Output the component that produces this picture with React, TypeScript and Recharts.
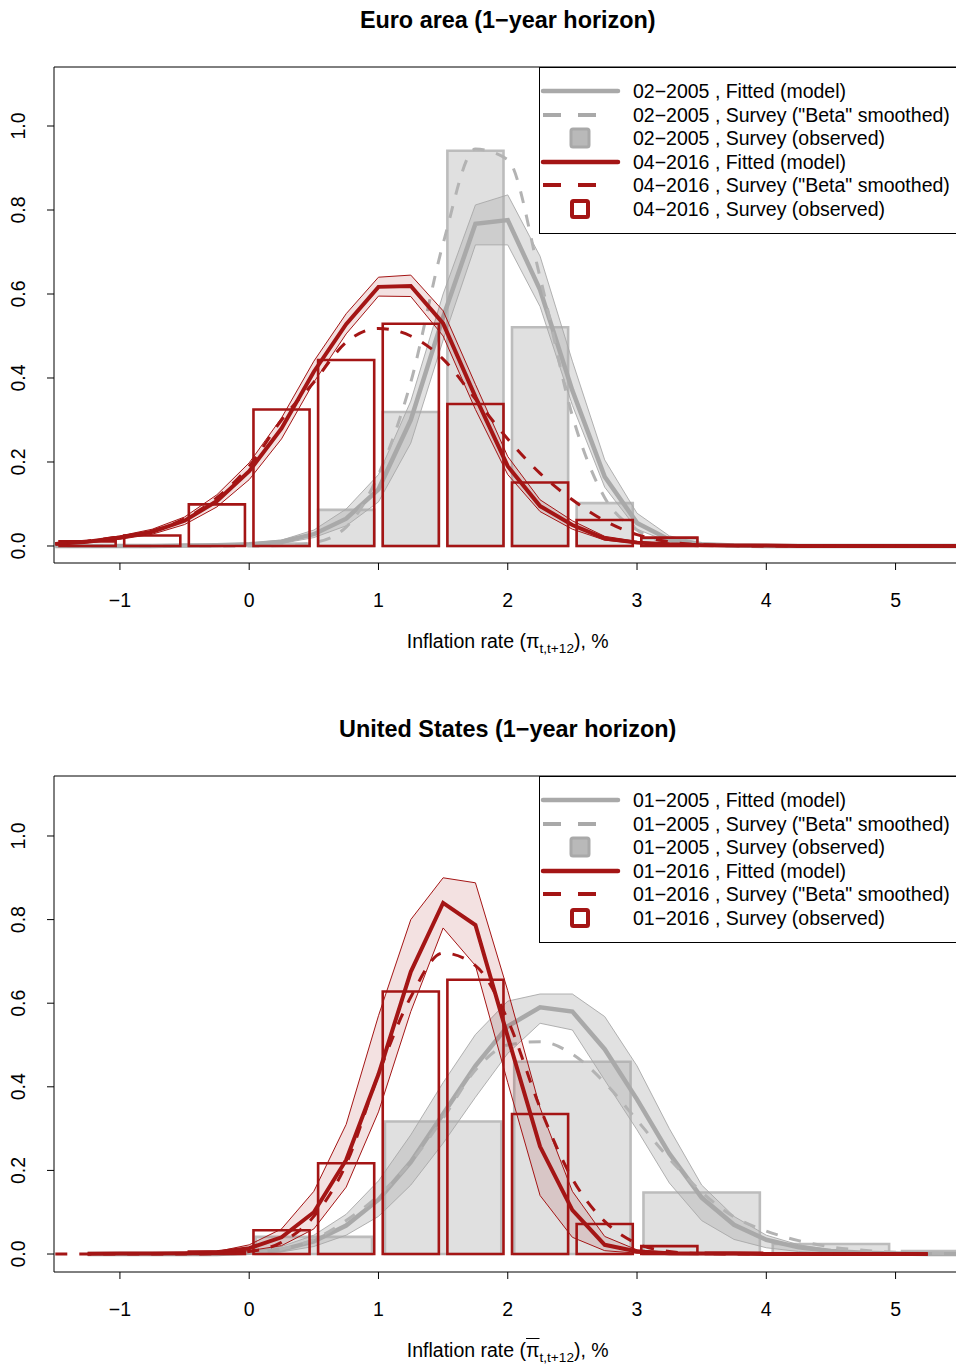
// Survey vs fitted inflation densities, Euro area and US (1-year horizon)

import { ComposedChart, Line, Area, XAxis, YAxis, ReferenceArea } from 'recharts'

const GRID = [-1.5, -1.25, -1, -0.75, -0.5, -0.25, 0, 0.25, 0.5, 0.75, 1, 1.25, 1.5, 1.75, 2, 2.25, 2.5, 2.75, 3, 3.25, 3.5, 3.75, 4, 4.25, 4.5, 4.75, 5, 5.25, 5.5]

// Euro area, 02-2005 (grey)
const EA05_FIT = [0, 0, 0, 0, 0.001, 0.002, 0.004, 0.01, 0.028, 0.065, 0.135, 0.3, 0.545, 0.767, 0.776, 0.61, 0.37, 0.165, 0.055, 0.015, 0.004, 0.001, 0, 0, 0, 0, 0, 0, 0]
const EA05_LO = [0, 0, 0, 0, 0, 0.001, 0.002, 0.006, 0.02, 0.048, 0.105, 0.245, 0.49, 0.717, 0.717, 0.57, 0.335, 0.14, 0.04, 0.009, 0.002, 0, 0, 0, 0, 0, 0, 0, 0]
const EA05_HI = [0, 0, 0, 0, 0.002, 0.003, 0.007, 0.014, 0.038, 0.088, 0.17, 0.345, 0.6, 0.812, 0.836, 0.69, 0.44, 0.205, 0.078, 0.024, 0.007, 0.002, 0.001, 0, 0, 0, 0, 0, 0]
const EA05_BETA = [0, 0, 0, 0, 0, 0, 0, 0.001, 0.008, 0.045, 0.17, 0.39, 0.72, 0.945, 0.92, 0.64, 0.31, 0.115, 0.038, 0.008, 0.001, 0, 0, 0, 0, 0, 0, 0, 0]
// Euro area, 04-2016 (red)
const EA16_FIT = [0.005, 0.01, 0.02, 0.034, 0.06, 0.107, 0.178, 0.28, 0.415, 0.528, 0.617, 0.619, 0.53, 0.355, 0.19, 0.095, 0.05, 0.018, 0.008, 0.004, 0.002, 0.001, 0.001, 0, 0, 0, 0, 0, 0]
const EA16_LO = [0.004, 0.008, 0.016, 0.028, 0.051, 0.093, 0.158, 0.255, 0.39, 0.505, 0.595, 0.594, 0.5, 0.325, 0.17, 0.082, 0.04, 0.014, 0.006, 0.003, 0.001, 0, 0, 0, 0, 0, 0, 0, 0]
const EA16_HI = [0.006, 0.012, 0.024, 0.04, 0.069, 0.122, 0.198, 0.305, 0.44, 0.553, 0.64, 0.645, 0.56, 0.385, 0.213, 0.11, 0.06, 0.023, 0.011, 0.005, 0.003, 0.001, 0.001, 0, 0, 0, 0, 0, 0]
const EA16_BETA = [0.006, 0.012, 0.022, 0.036, 0.065, 0.115, 0.19, 0.3, 0.39, 0.485, 0.518, 0.5, 0.445, 0.35, 0.255, 0.173, 0.11, 0.06, 0.027, 0.01, 0.003, 0.001, 0, 0, 0, 0, 0, 0, 0]

// United States, 01-2005 (grey)
const US05_FIT = [null, 0, 0, 0, 0, 0, 0.003, 0.01, 0.03, 0.068, 0.13, 0.22, 0.335, 0.45, 0.545, 0.59, 0.58, 0.49, 0.37, 0.24, 0.135, 0.07, 0.034, 0.016, 0.007, 0.003, 0.001, 0, 0]
const US05_LO = [null, 0, 0, 0, 0, 0, 0.001, 0.005, 0.018, 0.045, 0.09, 0.165, 0.265, 0.375, 0.48, 0.552, 0.536, 0.416, 0.297, 0.17, 0.08, 0.035, 0.015, 0.006, 0.002, 0.001, 0, 0, 0]
const US05_HI = [null, 0, 0, 0, 0, 0.001, 0.006, 0.018, 0.045, 0.095, 0.175, 0.285, 0.41, 0.525, 0.605, 0.622, 0.622, 0.568, 0.45, 0.3, 0.165, 0.09, 0.045, 0.022, 0.01, 0.005, 0.002, 0.001, 0]
const US05_BETA = [null, 0, 0, 0, 0, 0, 0.003, 0.012, 0.035, 0.08, 0.14, 0.22, 0.325, 0.44, 0.5, 0.508, 0.478, 0.41, 0.32, 0.228, 0.148, 0.089, 0.055, 0.032, 0.017, 0.009, 0.004, 0.002, 0.001]
// United States, 01-2016 (red)
const US16_FIT = [null, 0.0005, 0.001, 0.001, 0.002, 0.004, 0.014, 0.04, 0.1, 0.225, 0.43, 0.675, 0.84, 0.787, 0.52, 0.257, 0.105, 0.022, 0.006, 0.002, 0.001, 0.001, 0, 0, 0, 0, 0, 0, null]
const US16_LO = [null, 0, 0, 0, 0.001, 0.002, 0.008, 0.02, 0.06, 0.16, 0.34, 0.58, 0.78, 0.69, 0.41, 0.14, 0.04, 0.008, 0.002, 0.001, 0, 0, 0, 0, 0, 0, 0, 0, null]
const US16_HI = [null, 0.001, 0.002, 0.002, 0.003, 0.006, 0.022, 0.06, 0.15, 0.31, 0.57, 0.8, 0.9, 0.888, 0.63, 0.35, 0.15, 0.042, 0.01, 0.004, 0.002, 0.001, 0.001, 0, 0, 0, 0, 0, null]
const US16_BETA = [0, 0, 0, 0, 0, 0.001, 0.006, 0.028, 0.09, 0.215, 0.43, 0.615, 0.72, 0.69, 0.56, 0.35, 0.18, 0.078, 0.025, 0.006, 0.001, 0, 0, 0, 0, 0, 0, 0, null]

// observed survey histograms (bin lower edge, probability density)
const EA05_BIN_LO = [0, 0.5, 1, 1.5, 2, 2.5, 3]
const EA05_OBS = [0.006, 0.086, 0.319, 0.941, 0.521, 0.102, 0.018]
const EA16_BIN_LO = [-1.5, -1, -0.5, 0, 0.5, 1, 1.5, 2, 2.5, 3]
const EA16_OBS = [0.011, 0.025, 0.099, 0.325, 0.443, 0.529, 0.338, 0.151, 0.062, 0.02]
const US05_BIN_LO = [0, 1, 2, 3, 4, 5]
const US05_OBS = [0.041, 0.317, 0.46, 0.147, 0.024, 0.007]
const US16_BIN_LO = [-0.5, 0, 0.5, 1, 1.5, 2, 2.5, 3, 3.5]
const US16_OBS = [0.006, 0.057, 0.217, 0.628, 0.656, 0.335, 0.072, 0.019, 0.003]

const X_TICKS = [-1, 0, 1, 2, 3, 4, 5]
const Y_TICKS = [0, 0.2, 0.4, 0.6, 0.8, 1]

const EA_LEGEND = [
  '02\u22122005 , Fitted (model)',
  '02\u22122005 , Survey ("Beta" smoothed)',
  '02\u22122005 , Survey (observed)',
  '04\u22122016 , Fitted (model)',
  '04\u22122016 , Survey ("Beta" smoothed)',
  '04\u22122016 , Survey (observed)',
]
const US_LEGEND = [
  '01\u22122005 , Fitted (model)',
  '01\u22122005 , Survey ("Beta" smoothed)',
  '01\u22122005 , Survey (observed)',
  '01\u22122016 , Fitted (model)',
  '01\u22122016 , Survey ("Beta" smoothed)',
  '01\u22122016 , Survey (observed)',
]

const RED = '#a41515'
const GREY = '#a9a9a9'
const FONT = "'Liberation Sans', Arial, Helvetica, sans-serif"
const W = 1000
const H = 709
const X_DOMAIN = [-1.51, 5.51]

function buildRows(fitA, loA, hiA, betaA, fitB, loB, hiB, betaB) {
  return GRID.map((x, i) => ({
    x,
    fitA: fitA[i],
    bandA: loA[i] == null ? null : [loA[i], hiA[i]],
    betaA: betaA[i],
    fitB: fitB[i],
    bandB: loB[i] == null ? null : [loB[i], hiB[i]],
    betaB: betaB[i],
  }))
}

const EA_ROWS = buildRows(EA05_FIT, EA05_LO, EA05_HI, EA05_BETA, EA16_FIT, EA16_LO, EA16_HI, EA16_BETA)
const US_ROWS = buildRows(US05_FIT, US05_LO, US05_HI, US05_BETA, US16_FIT, US16_LO, US16_HI, US16_BETA)

const XTick = (p: any) => {
  const v = p.payload.value
  return (
    <text x={p.x} y={p.y + 30} textAnchor="middle" dominantBaseline="central" fontSize={19.5} fontFamily={FONT} fill="#000">
      {v < 0 ? '\u2212' + Math.abs(v) : String(v)}
    </text>
  )
}

const YTick = (p: any) => {
  const cx = p.x - 29
  return (
    <text x={cx} y={p.y} transform={`rotate(-90, ${cx}, ${p.y})`} textAnchor="middle" dominantBaseline="central" fontSize={19.5} fontFamily={FONT} fill="#000">
      {Number(p.payload.value).toFixed(1)}
    </text>
  )
}

function LegendSymbol({ i }: { i: number }) {
  const col = i < 3 ? GREY : RED
  const kind = i % 3
  if (kind === 0) return <line x1={4} x2={79} y1={12} y2={12} stroke={col} strokeWidth={4.5} strokeLinecap="round" />
  if (kind === 1) return <line x1={4} x2={57} y1={12} y2={12} stroke={col} strokeWidth={4} strokeDasharray="18 17" strokeLinecap="butt" />
  if (i < 3) return <rect x={32} y={3} width={18} height={18} rx={2} fill="#b9b9b9" stroke={GREY} strokeWidth={3} />
  return <rect x={33} y={4} width={16} height={16} rx={1.5} fill="#fff" stroke={RED} strokeWidth={4} />
}

function LegendBox({ labels }: { labels: string[] }) {
  return (
    <div style={{ position: 'absolute', left: 539, top: 67, width: 440, height: 167, border: '1px solid #000', background: '#fff', boxSizing: 'border-box', fontFamily: FONT }}>
      {labels.map((lab, i) => (
        <div key={i} style={{ position: 'absolute', left: -1, top: 11 + i * 23.6, height: 24, width: 430 }}>
          <svg width={90} height={24} style={{ position: 'absolute', left: 0, top: 0 }}>
            <LegendSymbol i={i} />
          </svg>
          <span style={{ position: 'absolute', left: 94, top: 0, lineHeight: '24px', fontSize: 19.5, whiteSpace: 'nowrap', color: '#000' }}>{lab}</span>
        </div>
      ))}
    </div>
  )
}

function Bins({ lo, obs, width, gap, old, z }: any) {
  return lo.map((b: number, i: number) => (
    <ReferenceArea
      key={`${z}-${i}`}
      x1={b + gap}
      x2={b + width - gap}
      y1={0}
      y2={obs[i]}
      ifOverflow="visible"
      fill={old ? '#e0e0e0' : 'none'}
      fillOpacity={1}
      stroke={old ? '#bcbcbc' : RED}
      strokeOpacity={1}
      strokeWidth={2.6}
      zIndex={z}
    />
  ))
}

function Panel({ top, title, axisTitle, rows, yDomain, oldBins, newBins, legend }: any) {
  return (
    <div style={{ position: 'absolute', left: 0, top, width: W, height: H }}>
      <ComposedChart width={W} height={H} data={rows} margin={{ top: 67, right: 38.5, bottom: 0, left: 0 }}>
        <XAxis type="number" dataKey="x" domain={X_DOMAIN} allowDataOverflow ticks={X_TICKS} interval={0} height={146} axisLine={false} tickSize={7} tickMargin={0} tickLine={{ stroke: '#000', strokeWidth: 1 }} tick={XTick} />
        <YAxis type="number" domain={yDomain} allowDataOverflow ticks={Y_TICKS} interval={0} width={54} axisLine={false} tickSize={7} tickMargin={0} tickLine={{ stroke: '#000', strokeWidth: 1 }} tick={YTick} />
        {Bins({ ...oldBins, old: true, z: 110 })}
        <Area dataKey="bandA" type="linear" fill={GREY} fillOpacity={0.35} stroke={GREY} strokeOpacity={0.9} strokeWidth={1} dot={false} activeDot={false} isAnimationActive={false} zIndex={120} />
        <Line dataKey="fitA" type="linear" stroke={GREY} strokeWidth={4.5} dot={false} activeDot={false} isAnimationActive={false} zIndex={130} />
        <Line dataKey="betaA" type="monotone" stroke="#b3b3b3" strokeWidth={3} strokeDasharray="12 12" dot={false} activeDot={false} isAnimationActive={false} zIndex={131} />
        {Bins({ ...newBins, old: false, z: 140 })}
        <Area dataKey="bandB" type="linear" fill={RED} fillOpacity={0.13} stroke={RED} strokeWidth={1} dot={false} activeDot={false} isAnimationActive={false} zIndex={150} />
        <Line dataKey="fitB" type="linear" stroke={RED} strokeWidth={4} dot={false} activeDot={false} isAnimationActive={false} zIndex={160} />
        <Line dataKey="betaB" type="monotone" stroke={RED} strokeWidth={3} strokeDasharray="12 12" dot={false} activeDot={false} isAnimationActive={false} zIndex={161} />
        <ReferenceArea x1={X_DOMAIN[0]} x2={X_DOMAIN[1]} y1={yDomain[0]} y2={yDomain[1]} ifOverflow="visible" fill="none" stroke="#000" strokeWidth={1} zIndex={170} />
      </ComposedChart>
      <div style={{ position: 'absolute', left: 54, top: 7, width: 907.5, height: 26, lineHeight: '26px', textAlign: 'center', fontFamily: FONT, fontWeight: 'bold', fontSize: 23.4, color: '#000' }}>
        {title}
      </div>
      <div style={{ position: 'absolute', left: 54, top: 629, width: 907.5, height: 24, lineHeight: '24px', textAlign: 'center', fontFamily: FONT, fontSize: 19.5, color: '#000' }}>
        {axisTitle}
      </div>
      <LegendBox labels={legend} />
    </div>
  )
}

export default function App() {
  return (
    <div style={{ position: 'fixed', left: 0, top: 0, width: 956, height: 1364, overflow: 'hidden', background: '#fff' }}>
      <Panel
        top={0}
        title={'Euro area (1\u2212year horizon)'}
        axisTitle={<span>Inflation rate (π<span style={{ fontSize: '0.7em', verticalAlign: '-0.35em' }}>t,t+12</span>), %</span>}
        rows={EA_ROWS}
        yDomain={[-0.0405, 1.1405]}
        oldBins={{ lo: EA05_BIN_LO, obs: EA05_OBS, width: 0.5, gap: 0.033 }}
        newBins={{ lo: EA16_BIN_LO, obs: EA16_OBS, width: 0.5, gap: 0.033 }}
        legend={EA_LEGEND}
      />
      <Panel
        top={709}
        title={'United States (1\u2212year horizon)'}
        axisTitle={<span>Inflation rate (<span style={{ textDecoration: 'overline' }}>π</span><span style={{ fontSize: '0.7em', verticalAlign: '-0.35em' }}>t,t+12</span>), %</span>}
        rows={US_ROWS}
        yDomain={[-0.043, 1.1435]}
        oldBins={{ lo: US05_BIN_LO, obs: US05_OBS, width: 1, gap: 0.05 }}
        newBins={{ lo: US16_BIN_LO, obs: US16_OBS, width: 0.5, gap: 0.033 }}
        legend={US_LEGEND}
      />
    </div>
  )
}
